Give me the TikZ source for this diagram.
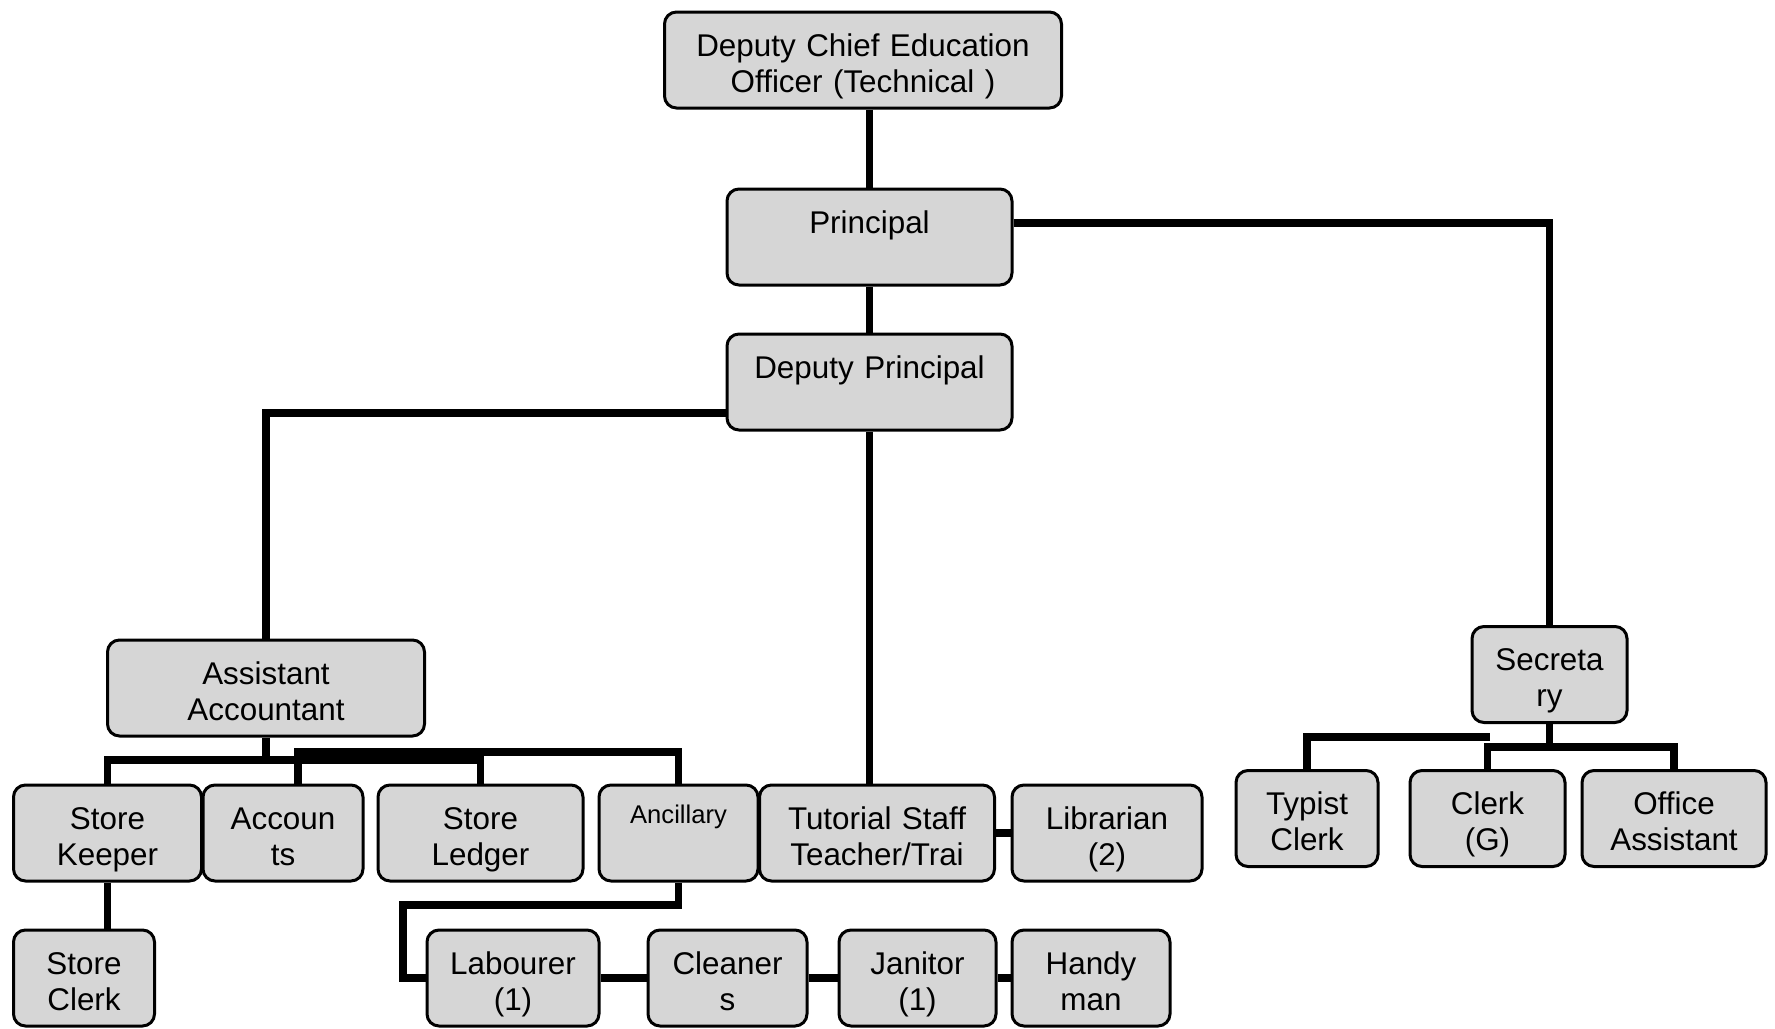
\documentclass[tikz,border=0pt]{standalone}
\usepackage{fontspec}
\setmainfont{Liberation Sans}
\begin{document}
\begin{tikzpicture}[x=0.5pt,y=-0.5pt,line join=miter,
  post/.style={draw=black,line width=1.5pt,rounded corners=6pt,fill=black!16,
    inner xsep=0pt,inner ysep=0pt,align=center,text height=22pt,text depth=26pt,
    font=\fontsize{15.7}{18}\selectfont},
  link/.style={draw=black,line width=3.6pt}]
  \useasboundingbox (0,0) rectangle (1775,1028);
%%
  % Node: DCEO
  \node[post,text width=198.5pt] (dceo) at (863,60) {Deputy Chief Education\\Officer (Technical )};
  % Node: Principal
  \node[post,text width=142.5pt] (prin) at (869.5,237) {Principal};
  % Node: Deputy Principal
  \node[post,text width=142.5pt] (dep) at (869.5,382) {Deputy Principal};
  % Node: Assistant Accountant
  \node[post,text width=158.5pt] (asst) at (266,688) {Assistant\\Accountant};
  % Node: Secretary
  \node[post,text width=77.5pt] (sec) at (1549.5,674.5) {Secreta\\ry};
  % Node: Store Keeper
  \node[post,text width=94pt] (keeper) at (107.5,833) {Store\\Keeper};
  % Node: Accounts
  \node[post,text width=80pt] (accts) at (283,833) {Accoun\\ts};
  % Node: Store Ledger
  \node[post,text width=102.5pt] (ledger) at (480.5,833) {Store\\Ledger};
  % Node: Ancillary
  \node[post,text width=79.5pt,text height=19pt,text depth=29pt,
    font=\fontsize{12.8}{15}\selectfont] (ancil) at (678.5,833) {Ancillary};
  % Node: Tutorial Staff
  \node[post,text width=117.5pt] (tutor) at (877,833) {Tutorial Staff\\Teacher/Trai};
  % Node: Librarian
  \node[post,text width=95pt] (libr) at (1107,833) {Librarian\\(2)};
  % Node: Typist Clerk
  \node[post,text width=71pt] (typist) at (1307,818.5) {Typist\\Clerk};
  % Node: Clerk (G)
  \node[post,text width=77.5pt] (clerkg) at (1487.5,818.5) {Clerk\\(G)};
  % Node: Office Assistant
  \node[post,text width=92pt] (office) at (1674,818.5) {Office\\Assistant};
  % Node: Store Clerk
  \node[post,text width=70.5pt] (sclerk) at (84,978) {Store\\Clerk};
  % Node: Labourer
  \node[post,text width=86pt] (labour) at (513,978) {Labourer\\(1)};
  % Node: Cleaners
  \node[post,text width=79.5pt] (clean) at (727.5,978) {Cleaner\\s};
  % Node: Janitor
  \node[post,text width=78.5pt] (janitor) at (917.5,978) {Janitor\\(1)};
  % Node: Handyman
  \node[post,text width=79pt] (handy) at (1091,978) {Handy\\man};
%%
  % Edge: dceo -> prin
  \draw[link] (dceo.south -| prin.north) -- (prin.north);
  % Edge: prin -> dep
  \draw[link] (prin.south) -- (dep.north);
  % Edge: prin -> sec
  \draw[link] ([yshift=7pt]prin.east) -| (sec.north);
  % Edge: dep -> asst
  \draw[link] ([yshift=-15.5pt]dep.west) -| (asst.north);
  % Edge: dep -> tutor
  \draw[link] (dep.south) -- (dep.south |- tutor.north);
  % Edge: asst -> keeper, ledger
  \coordinate (abus) at (266,760);
  \draw[link] (asst.south) -- (abus);
  \draw[link] (keeper.north) |- (ledger.north |- abus) -- (ledger.north);
  % Edge: asst -> accts, ancil
  \coordinate (abus2) at (298,752);
  \draw[link] (abus2 |- accts.north) -- (abus2) -| (ancil.north);
  % Edge: keeper -> sclerk
  \draw[link] (keeper.south) -- (keeper.south |- sclerk.north);
  % Edge: ancil -> labour
  \coordinate (lbend) at (403,905);
  \draw[link] (ancil.south) |- (lbend) |- (labour.west);
  % Edge: labour -> clean -> janitor -> handy
  \draw[link] (labour.east) -- (clean.west);
  \draw[link] (clean.east) -- (janitor.west);
  \draw[link] (janitor.east) -- (handy.west);
  % Edge: tutor -> libr
  \draw[link] (tutor.east) -- (libr.west);
  % Edge: sec -> clerkg, office
  \coordinate (sbus) at (1549.5,747);
  \draw[link] (sec.south) -- (sbus);
  \draw[link] (clerkg.north) |- (office.north |- sbus) -- (office.north);
  % Edge: sec -> typist
  \coordinate (tbus) at (1490,737);
  \draw[link] (typist.north) |- (tbus);
%
\end{tikzpicture}
\end{document}
